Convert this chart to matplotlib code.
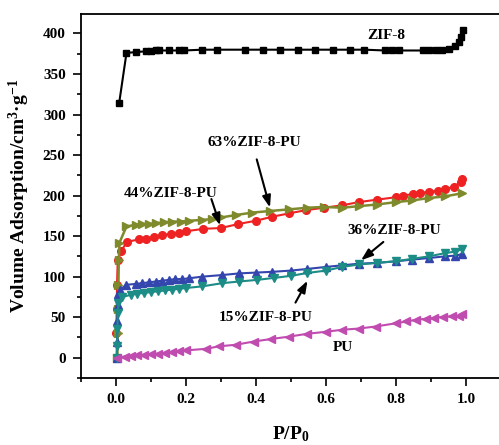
import matplotlib
matplotlib.use("Agg")
import matplotlib.pyplot as plt
from matplotlib.ticker import MultipleLocator

# -----------------------------
# Data
# -----------------------------
zif8_x = [0.009, 0.03, 0.056, 0.085, 0.1, 0.114, 0.123, 0.151, 0.18, 0.194, 0.246, 0.289,
          0.37, 0.42, 0.47, 0.52, 0.57, 0.62, 0.67, 0.71, 0.77, 0.79, 0.81, 0.876, 0.895,
          0.913, 0.932, 0.951, 0.97, 0.98, 0.987, 0.991]
zif8_y = [314, 376, 377, 378, 378, 379, 379, 379, 379, 379, 380, 380,
          380, 380, 380, 380, 380, 380, 380, 380, 379, 379, 379, 379, 379,
          379, 380, 381, 385, 390, 396, 404]

p63_x = [0.001, 0.002, 0.003, 0.005, 0.015, 0.032, 0.066, 0.085, 0.108, 0.132, 0.156, 0.18,
         0.2, 0.25, 0.3, 0.35, 0.4, 0.447, 0.494, 0.542, 0.594, 0.646, 0.694, 0.746, 0.8,
         0.82, 0.85, 0.87, 0.894, 0.92, 0.94, 0.966, 0.985, 0.99]
p63_y = [30, 60, 90, 121, 132, 143, 146, 147, 149, 151, 153, 154,
         156, 159, 160, 165, 169, 174, 178, 182, 185, 188, 192, 195, 198,
         200, 202, 203, 205, 206, 208, 211, 217, 221]

p44_x = [0.004, 0.005, 0.006, 0.007, 0.008, 0.01, 0.03, 0.057, 0.075, 0.095, 0.114, 0.137,
         0.16, 0.186, 0.21, 0.246, 0.274, 0.3, 0.342, 0.389, 0.44, 0.494, 0.546, 0.594,
         0.646, 0.694, 0.746, 0.8, 0.846, 0.894, 0.94, 0.99]
p44_y = [0, 30, 60, 90, 120, 142, 162, 164, 165, 165, 166, 167,
         168, 168, 169, 170, 171, 173, 176, 179, 181, 183, 185, 186,
         185, 187, 189, 192, 194, 197, 199, 203]

p36_x = [0.002, 0.003, 0.004, 0.005, 0.007, 0.012, 0.03, 0.056, 0.075, 0.094, 0.114, 0.132,
         0.151, 0.17, 0.189, 0.209, 0.246, 0.304, 0.351, 0.399, 0.447, 0.5, 0.546, 0.6,
         0.646, 0.694, 0.746, 0.8, 0.846, 0.894, 0.94, 0.97, 0.99]
p36_y = [0, 20, 45, 65, 78, 84, 90, 91, 92, 93, 94, 95,
         96, 97, 97, 98, 100, 102, 104, 105, 106, 107.5, 109.5, 112,
         114, 116, 117, 119, 121, 123, 125, 126, 128]

p15_x = [0.002, 0.003, 0.004, 0.005, 0.007, 0.018, 0.042, 0.06, 0.08, 0.1, 0.12, 0.14,
         0.16, 0.18, 0.2, 0.246, 0.304, 0.351, 0.403, 0.452, 0.5, 0.546, 0.6, 0.646,
         0.694, 0.746, 0.8, 0.846, 0.894, 0.94, 0.97, 0.99]
p15_y = [0, 15, 35, 55, 68, 75, 77.5, 79, 80, 81, 82, 83,
         84, 85, 86, 88, 92, 94, 96, 98.5, 101, 104.5, 107.5, 112,
         115, 117, 119, 122, 125, 129, 131, 134]

pu_x = [0.004, 0.025, 0.043, 0.06, 0.08, 0.1, 0.12, 0.14, 0.16, 0.18, 0.2, 0.257,
        0.294, 0.342, 0.394, 0.442, 0.494, 0.546, 0.6, 0.646, 0.694, 0.742, 0.8, 0.83,
        0.856, 0.885, 0.908, 0.933, 0.96, 0.98, 0.99]
pu_y = [0, 1.5, 2, 3, 3.5, 4.5, 5, 6, 7, 8, 9, 11,
        14, 16, 20, 23, 26, 29.5, 32, 34.5, 36, 38.5, 42.5, 44.7,
        46.7, 48, 49, 50.3, 51, 52, 54]

# -----------------------------
# Style
# -----------------------------
plt.rcParams.update({
    "font.family": "Liberation Serif",
    "font.weight": "bold",
    "mathtext.fontset": "custom",
    "mathtext.rm": "Liberation Serif:bold",
    "mathtext.bf": "Liberation Serif:bold",
    "mathtext.it": "Liberation Serif:bold:italic",
    "axes.linewidth": 1.3,
})

fig = plt.figure(figsize=(4.99, 4.45), dpi=100)
ax = fig.add_axes([0.1623, 0.1506, 0.8417, 0.8179])

ax.plot(zif8_x, zif8_y, color="black", marker="s", ms=5, lw=1.5)
ax.plot(p63_x, p63_y, color="#ee2222", marker="o", ms=5.5, lw=1.5)
ax.plot(p44_x, p44_y, color="#7f8a2c", marker=">", ms=6, lw=1.8)
ax.plot(p36_x, p36_y, color="#3445ae", marker="^", ms=6, lw=1.5)
ax.plot(p15_x, p15_y, color="#1c8c86", marker="v", ms=6, lw=1.5)
ax.plot(pu_x, pu_y, color="#c04cb0", marker="<", ms=6, lw=1.5)

ax.set_xlim(-0.1, 1.1)
ax.set_ylim(-25, 424)
ax.xaxis.set_major_locator(MultipleLocator(0.2))
ax.xaxis.set_minor_locator(MultipleLocator(0.1))
ax.yaxis.set_major_locator(MultipleLocator(50))
ax.yaxis.set_minor_locator(MultipleLocator(25))
ax.set_xticks([0.0, 0.2, 0.4, 0.6, 0.8, 1.0])
ax.tick_params(which="both", direction="out", width=1.2, labelsize=11)
ax.tick_params(which="major", length=6, pad=5)
ax.tick_params(which="minor", length=3)
ax.spines["right"].set_visible(False)

ax.set_xlabel("P/P$_0$", fontsize=14, fontweight="bold", labelpad=13)
ax.set_ylabel("Volume Adsorption/cm$^3$·g$^{-1}$", fontsize=14, fontweight="bold", labelpad=8)

# -----------------------------
# Labels and arrows
# -----------------------------
txt = dict(fontsize=11, fontweight="bold", ha="center", va="center")
arrow = dict(arrowstyle="-|>,head_length=0.7,head_width=0.25", color="black", lw=1.5)

ax.text(0.771, 397, "ZIF-8", **txt)
ax.text(0.394, 265, "63%ZIF-8-PU", **txt)
ax.text(0.156, 203, "44%ZIF-8-PU", **txt)
ax.text(0.794, 157, "36%ZIF-8-PU", **txt)
ax.text(0.429, 49, "15%ZIF-8-PU", **txt)
ax.text(0.649, 12, "PU", **txt)

ax.annotate("", xy=(0.442, 182), xytext=(0.4, 248), arrowprops=arrow)
ax.annotate("", xy=(0.3, 160), xytext=(0.27, 199), arrowprops=arrow)
ax.annotate("", xy=(0.694, 118), xytext=(0.77, 145), arrowprops=arrow)
ax.annotate("", xy=(0.551, 98), xytext=(0.509, 65), arrowprops=arrow)

fig.savefig("out.png", dpi=100)
